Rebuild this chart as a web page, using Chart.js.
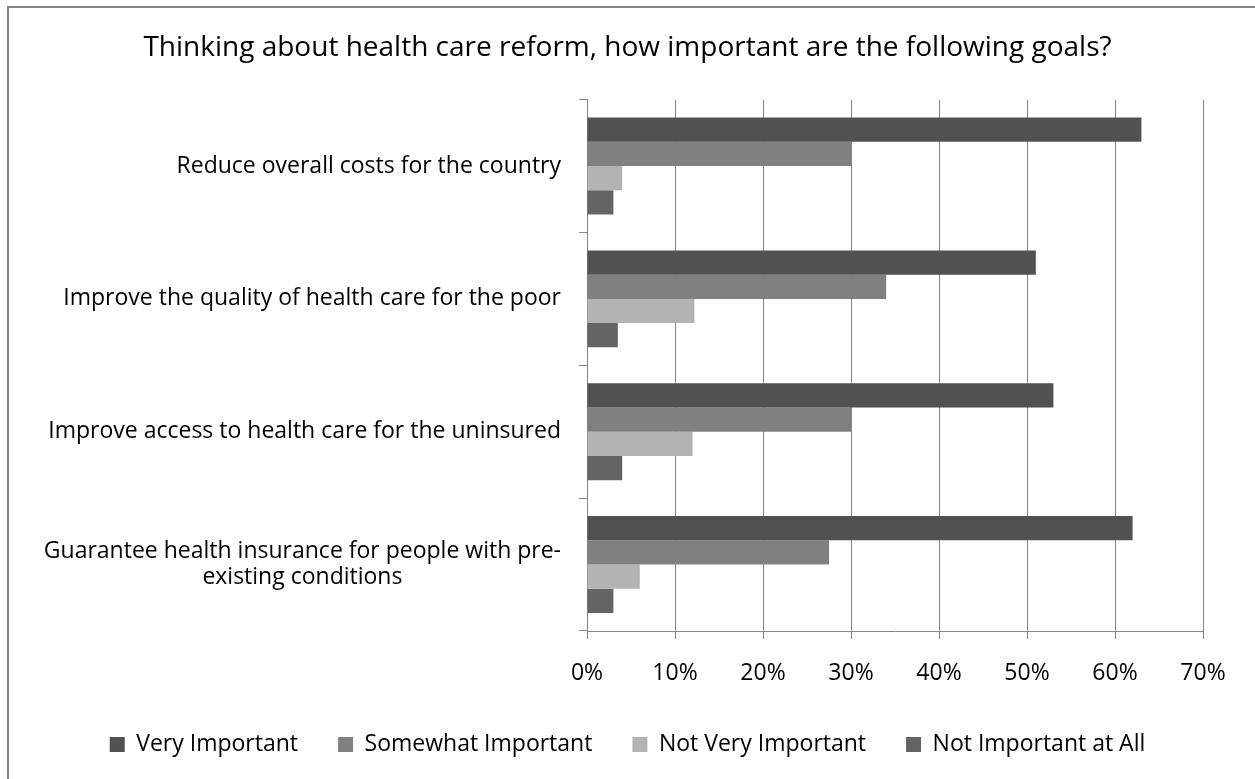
<!DOCTYPE html>
<html>
<head>
<meta charset="utf-8">
<title>Health care reform goals</title>
<script src="https://cdn.jsdelivr.net/npm/chart.js@4.4.1/dist/chart.umd.min.js"></script>
<style>
  html, body { margin: 0; padding: 0; background: #ffffff; }
  #c { display: block; }
</style>
</head>
<body>
<canvas id="c" width="1255" height="779"></canvas>
<script>
// Survey categories (multi-line where the label wraps)
const categories = [
  ['Reduce overall costs for the country'],
  ['Improve the quality of health care for the poor'],
  ['Improve access to health care for the uninsured'],
  ['Guarantee health insurance for people with pre-', 'existing conditions']
];
const seriesNames = ['Very Important', 'Somewhat Important', 'Not Very Important', 'Not Important at All'];

// Share of respondents (%)
const veryImportant     = [63, 51, 53, 62];
const somewhatImportant = [30, 34, 30, 27.5];
const notVeryImportant  = [4, 12.2, 12, 6];
const notImportantAtAll = [3, 3.5, 4, 3];

const xTicks = [0, 10, 20, 30, 40, 50, 60, 70];

const FONT = '"Open Sans"';
const GRID = '#868686';

const seriesValues = [veryImportant, somewhatImportant, notVeryImportant, notImportantAtAll];
const seriesColors = ['#515151', '#808080', '#b3b3b3', '#646464'];

// Frame along the top and left edges plus white background
const framePlugin = {
  id: 'frame',
  beforeDraw(chart) {
    const ctx = chart.ctx;
    ctx.save();
    ctx.fillStyle = '#ffffff';
    ctx.fillRect(0, 0, chart.width, chart.height);
    ctx.strokeStyle = GRID;
    ctx.lineWidth = 2;
    ctx.beginPath();
    ctx.moveTo(8, chart.height + 5);
    ctx.lineTo(8, 7);
    ctx.lineTo(chart.width + 5, 7);
    ctx.stroke();
    ctx.restore();
  }
};

// Title and legend are centred on the whole canvas, not just the padded area
const fullSpanPlugin = {
  id: 'fullSpan',
  afterLayout(chart) {
    [chart.titleBlock, chart.legend].forEach(box => {
      if (!box) return;
      box.left = 0;
      box.right = chart.width;
      box.width = chart.width;
    });
  }
};

// Category labels: right-aligned block, lines centred within the block
const categoryLabelPlugin = {
  id: 'categoryLabels',
  afterDraw(chart) {
    const ctx = chart.ctx;
    const y = chart.scales.y;
    ctx.save();
    ctx.font = '23px ' + FONT;
    ctx.fillStyle = '#000000';
    ctx.textBaseline = 'middle';
    ctx.textAlign = 'center';
    const right = y.right - 26;
    categories.forEach((lines, i) => {
      const cy = y.getPixelForValue(i);
      const w = Math.max(...lines.map(l => ctx.measureText(l).width));
      const cx = right - w / 2;
      lines.forEach((l, j) => {
        ctx.fillText(l, cx, cy + (j - (lines.length - 1) / 2) * 26);
      });
    });
    ctx.restore();
  }
};

new Chart(document.getElementById('c'), {
  type: 'bar',
  data: {
    labels: categories,
    datasets: seriesNames.map((name, i) => ({
      label: name,
      data: seriesValues[i],
      backgroundColor: seriesColors[i],
      borderWidth: 0,
      categoryPercentage: 0.73,
      barPercentage: 1
    }))
  },
  options: {
    responsive: false,
    animation: false,
    devicePixelRatio: 1,
    indexAxis: 'y',
    layout: { padding: { top: 0, left: 0, right: 52, bottom: 13 } },
    scales: {
      x: {
        min: 0,
        max: 70,
        afterBuildTicks: s => { s.ticks = xTicks.map(v => ({ value: v })); },
        afterFit: s => { s.height = 62; },
        grid: { color: GRID, lineWidth: 1, tickLength: 8 },
        border: { color: GRID, width: 1 },
        ticks: {
          padding: 21,
          color: '#000000',
          maxRotation: 0,
          font: { family: FONT, size: 23 },
          callback: v => v + '%'
        }
      },
      y: {
        afterFit: s => { s.width = 587; },
        grid: { drawOnChartArea: false, color: GRID, tickLength: 8, offset: true },
        border: { color: GRID, width: 1 },
        ticks: { color: 'rgba(0,0,0,0)', font: { family: FONT, size: 20 } }
      }
    },
    plugins: {
      title: {
        display: true,
        text: 'Thinking about health care reform, how important are the following goals?',
        color: '#000000',
        font: { family: FONT, size: 28, weight: 'normal' },
        padding: { top: 31, bottom: 35 }
      },
      legend: {
        position: 'bottom',
        labels: {
          boxWidth: 15,
          boxHeight: 15,
          padding: 40,
          color: '#000000',
          font: { family: FONT, size: 23 }
        }
      },
      tooltip: { enabled: false }
    }
  },
  plugins: [framePlugin, fullSpanPlugin, categoryLabelPlugin]
});
</script>
</body>
</html>
